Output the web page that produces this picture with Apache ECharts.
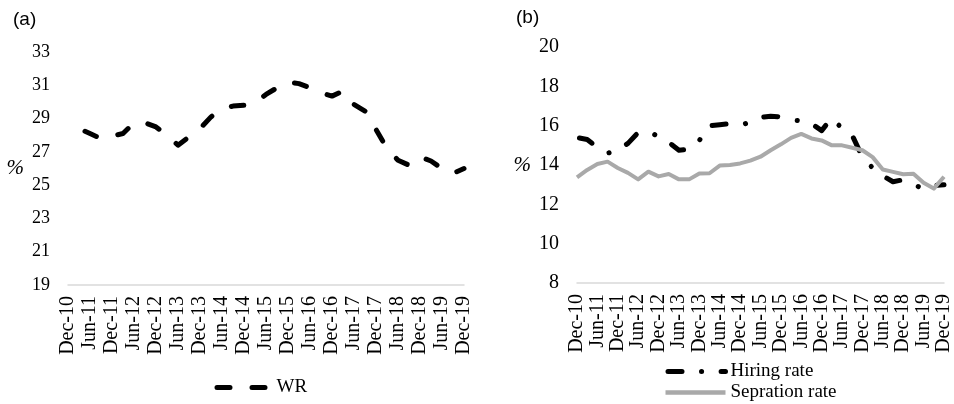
<!DOCTYPE html>
<html>
<head>
<meta charset="utf-8">
<script src="https://cdn.jsdelivr.net/npm/echarts@6/dist/echarts.min.js"></script>
<style>
html,body{margin:0;padding:0;background:#fff;}
#chart{width:954px;height:404px;}
</style>
</head>
<body>
<div id="chart"></div>
<script>
// Quarterly categories, Dec-10 .. Dec-19
var categories = ["Dec-10","Mar-11","Jun-11","Sep-11","Dec-11","Mar-12","Jun-12","Sep-12","Dec-12","Mar-13","Jun-13","Sep-13","Dec-13","Mar-14","Jun-14","Sep-14","Dec-14","Mar-15","Jun-15","Sep-15","Dec-15","Mar-16","Jun-16","Sep-16","Dec-16","Mar-17","Jun-17","Sep-17","Dec-17","Mar-18","Jun-18","Sep-18","Dec-18","Mar-19","Jun-19","Sep-19","Dec-19"];

// Panel (a): WR (%)
var wr = [28.45,28.4,28.1,27.8,27.95,28.1,28.75,28.75,28.5,28.0,27.4,27.9,28.4,29.1,29.6,29.75,29.8,29.95,30.45,30.85,31.2,31.1,30.85,30.55,30.35,30.65,29.85,29.45,28.35,27.2,26.5,26.2,26.7,26.45,26.0,25.7,26.0];

// Panel (b): hiring and separation rates (%)
var hiringRate = [15.4,15.3,14.9,14.6,14.75,15.1,15.65,15.7,15.45,15.15,14.75,14.8,15.25,16.0,16.05,16.1,16.0,16.2,16.42,16.48,16.45,16.28,16.25,16.1,15.75,16.4,15.85,15.5,14.4,13.85,13.45,13.15,13.25,13.0,12.8,12.95,13.0];
var separationRate = [13.37,13.75,14.05,14.17,13.85,13.6,13.27,13.66,13.42,13.54,13.27,13.27,13.57,13.58,13.97,14.0,14.08,14.22,14.42,14.75,15.05,15.38,15.58,15.35,15.25,15.0,15.0,14.88,14.75,14.4,13.77,13.65,13.53,13.56,13.1,12.8,13.4];

// Axis ranges / ticks
var yA = {min: 19, max: 33, interval: 2};
var yB = {min: 8, max: 20, interval: 2};

var serif = "'Liberation Serif','Times New Roman',serif";
var sans = "'Liberation Sans',Arial,sans-serif";

var chart = echarts.init(document.getElementById('chart'), null, {renderer: 'canvas'});

function xAxisCfg(gi) {
  return {
    type: 'category', gridIndex: gi, data: categories, boundaryGap: false,
    axisLine: {show: true, lineStyle: {color: '#d9d9d9', width: 1.5}},
    axisTick: {show: false},
    axisLabel: {interval: 1, rotate: 90, margin: 11, color: '#000', fontFamily: serif, fontSize: 20},
    splitLine: {show: false}
  };
}
function yAxisCfg(gi, r, gap, fs) {
  return {
    type: 'value', gridIndex: gi, min: r.min, max: r.max, interval: r.interval,
    name: '%', nameLocation: 'middle', nameRotate: 0, nameGap: gap,
    nameTextStyle: {color: '#000', fontFamily: serif, fontStyle: 'italic', fontSize: 21},
    axisLine: {show: false}, axisTick: {show: false},
    axisLabel: {margin: 18, color: '#000', fontFamily: serif, fontSize: fs},
    splitLine: {show: false}
  };
}

chart.setOption({
  animation: false,
  backgroundColor: '#fff',
  title: [
    {text: '(a)', left: 8, top: 5, textStyle: {fontFamily: sans, fontWeight: 'normal', fontSize: 19, color: '#000'}},
    {text: '(b)', left: 511, top: 3, textStyle: {fontFamily: sans, fontWeight: 'normal', fontSize: 19, color: '#000'}}
  ],
  grid: [
    {left: 68, width: 396, top: 52, height: 233},
    {left: 577, width: 369, top: 47, height: 236}
  ],
  xAxis: [xAxisCfg(0), xAxisCfg(1)],
  yAxis: [yAxisCfg(0, yA, 44, 18), yAxisCfg(1, yB, 46, 20)],
  legend: [
    {data: [{name: 'WR', lineStyle: {width: 5, type: [13, 22], dashOffset: -2.5, cap: 'round'}}],
     left: 212, top: 378, padding: 0, itemWidth: 54, itemHeight: 14,
     itemStyle: {opacity: 0},
     textStyle: {fontFamily: serif, fontSize: 19, color: '#000', padding: [0,0,0,3]}},
    {data: [
       {name: 'Hiring rate', lineStyle: {width: 5, type: [14, 19.5, 0.1, 19.5], dashOffset: -2.5, cap: 'round'}},
       {name: 'Sepration rate', lineStyle: {width: 4.5, type: 'solid'}}
     ],
     orient: 'vertical', left: 663, top: 362, padding: 0,
     itemWidth: 60, itemHeight: 14, itemGap: 2,
     itemStyle: {opacity: 0},
     textStyle: {fontFamily: serif, fontSize: 19, color: '#000', lineHeight: 19}}
  ],
  series: [
    {name: 'WR', type: 'line', xAxisIndex: 0, yAxisIndex: 0, data: wr, symbol: 'none', smooth: false,
     lineStyle: {color: '#000', width: 5, type: [12.5, 22.3], dashOffset: 17.2, cap: 'round', join: 'round'},
     itemStyle: {color: '#000'}},
    {name: 'Hiring rate', type: 'line', xAxisIndex: 1, yAxisIndex: 1, data: hiringRate, symbol: 'none',
     lineStyle: {color: '#000', width: 5, type: [14, 20, 0.1, 19.5], dashOffset: -2.5, cap: 'round', join: 'round'},
     itemStyle: {color: '#000'}},
    {name: 'Sepration rate', type: 'line', xAxisIndex: 1, yAxisIndex: 1, data: separationRate, symbol: 'none',
     lineStyle: {color: '#a9a9a9', width: 4, join: 'round'},
     itemStyle: {color: '#a9a9a9'}}
  ]
});
</script>
</body>
</html>
